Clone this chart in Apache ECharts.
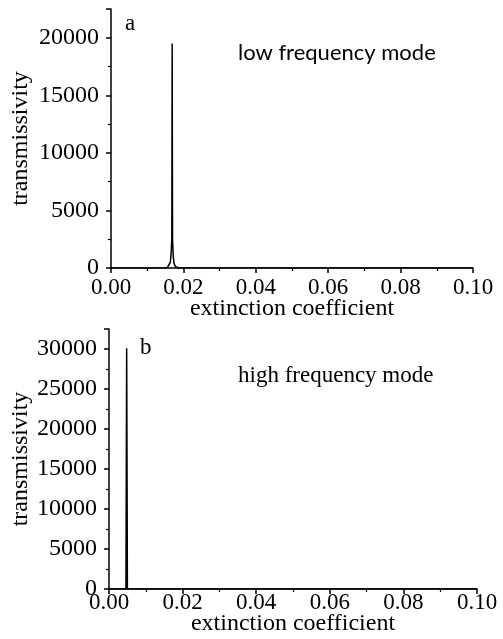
<!DOCTYPE html>
<html>
<head>
<meta charset="utf-8">
<script src="https://cdn.jsdelivr.net/npm/echarts@6/dist/echarts.min.js"></script>
<style>html,body{margin:0;padding:0;background:#fff;}#c{width:503px;height:639px;}</style>
</head>
<body>
<div id="c"></div>
<script>
// Panel a: low frequency mode
const xA = [0, 0.0155, 0.0160, 0.0164, 0.0166, 0.0168, 0.0169, 0.0170, 0.0172, 0.0174, 0.0178, 0.0185, 0.1];
const yA = [0, 20, 150, 500, 1200, 2500, 19500, 2400, 1000, 400, 120, 20, 0];
// Panel b: high frequency mode
const xB = [0, 0.0046, 0.0048, 0.0050, 0.1];
const yB = [0, 0, 30100, 0, 0];
const xTicks = [0, 0.02, 0.04, 0.06, 0.08, 0.10];
const panelLetters = ['a', 'b'];
const panelTitles = ['low frequency mode', 'high frequency mode'];
const xName = 'extinction coefficient';
const yName = 'transmissivity';

const serif = '"Liberation Serif", "Times New Roman", serif';
const sans = 'Lato, "Noto Sans", sans-serif';
const pair = (xs, ys) => xs.map((x, i) => [x, ys[i]]);

function xAxis(gi, labelMargin, nameGap) {
  return {
    type: 'value', gridIndex: gi, min: xTicks[0], max: xTicks[xTicks.length - 1], interval: 0.02,
    name: xName, nameLocation: 'middle', nameGap: nameGap, nameMoveOverlap: false,
    nameTextStyle: { fontFamily: serif, fontSize: 24, color: '#000' },
    axisLine: { show: true, onZero: false, lineStyle: { color: '#000', width: 1.5 } },
    axisTick: { show: true, length: 5, lineStyle: { color: '#000', width: 1.5 } },
    minorTick: { show: true, splitNumber: 2, length: 3, lineStyle: { color: '#000', width: 1.2 } },
    axisLabel: { fontFamily: serif, fontSize: 23, color: '#000', margin: labelMargin, formatter: v => v.toFixed(2) },
    splitLine: { show: false }
  };
}
function yAxis(gi, max, nameGap) {
  return {
    type: 'value', gridIndex: gi, min: 0, max: max, interval: 5000,
    name: yName, nameLocation: 'middle', nameGap: nameGap, nameMoveOverlap: false,
    nameTextStyle: { fontFamily: serif, fontSize: 24, color: '#000' },
    axisLine: { show: true, lineStyle: { color: '#000', width: 1.5 } },
    axisTick: { show: true, length: 5, lineStyle: { color: '#000', width: 1.5 } },
    minorTick: { show: true, splitNumber: 2, length: 3, lineStyle: { color: '#000', width: 1.2 } },
    axisLabel: { fontFamily: serif, fontSize: 24, color: '#000', margin: 12, showMaxLabel: false, formatter: v => String(v) },
    splitLine: { show: false }
  };
}

const chart = echarts.init(document.getElementById('c'), null, { renderer: 'canvas' });
const ts = (ff, fs) => ({ fontFamily: ff, fontSize: fs, fontWeight: 'normal', color: '#000' });
chart.setOption({
  animation: false,
  backgroundColor: '#fff',
  title: [
    { text: panelLetters[0], left: 125, top: 12, padding: 0, textStyle: ts(serif, 23) },
    { text: panelTitles[0], left: 238, top: 42, padding: 0, textStyle: ts(sans, 22) },
    { text: panelLetters[1], left: 140, top: 336, padding: 0, textStyle: ts(serif, 23) },
    { text: panelTitles[1], left: 238, top: 364, padding: 0, textStyle: ts(serif, 23) }
  ],
  grid: [
    { left: 111, right: 30, top: 9, height: 259, outerBoundsMode: 'none' },
    { left: 109, right: 26, top: 329, height: 260, outerBoundsMode: 'none' }
  ],
  xAxis: [xAxis(0, 8, 29), xAxis(1, 2, 23)],
  yAxis: [yAxis(0, 22500, 78), yAxis(1, 32500, 76)],
  series: [
    { type: 'line', xAxisIndex: 0, yAxisIndex: 0, data: pair(xA, yA), symbol: 'none', lineStyle: { color: '#000', width: 1.5 } },
    { type: 'line', xAxisIndex: 1, yAxisIndex: 1, data: pair(xB, yB), symbol: 'none', lineStyle: { color: '#000', width: 1.5 } }
  ]
});
</script>
</body>
</html>
